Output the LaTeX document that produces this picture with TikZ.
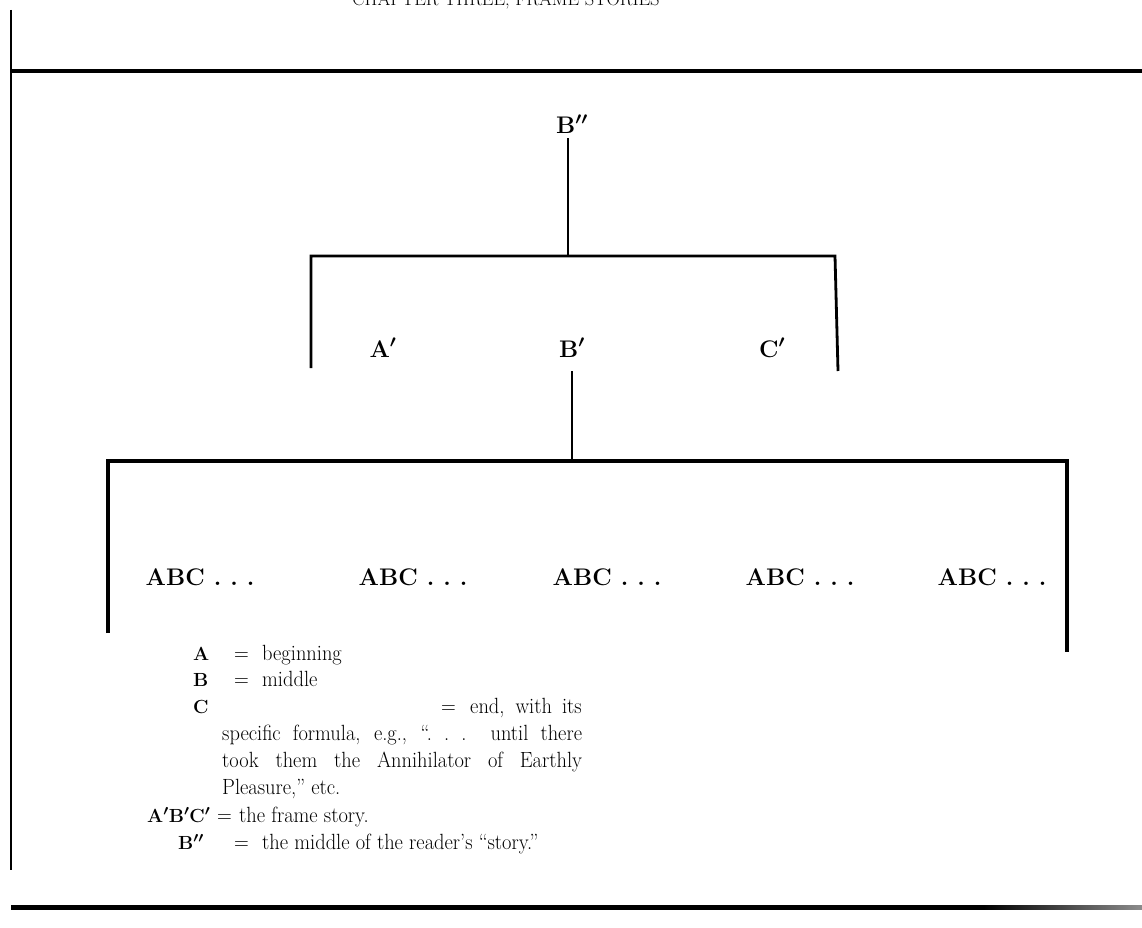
\documentclass[tikz,border=0pt]{standalone}
\usepackage{fontspec}
\newcommand{\lgx}[1]{\scalebox{0.93}[1]{#1}}
\pgfdeclarehorizontalshading{fadeline}{100bp}{color(0bp)=(black); color(25bp)=(black); color(68bp)=(black); color(75bp)=(black!45); color(100bp)=(black!45)}
\begin{document}
\begin{tikzpicture}[x=1pt,y=-1pt,
  lab/.style={font=\fontsize{24}{28}\selectfont\bfseries\boldmath, inner sep=0pt, anchor=base},
  abc/.style={font=\fontsize{24}{28}\selectfont\bfseries, inner sep=0pt, anchor=base},
  leg/.style={font=\fontsize{22}{26}\selectfont, inner sep=0pt, anchor=base west},
  legb/.style={font=\fontsize{19}{24}\selectfont\bfseries\boldmath, inner sep=0pt, anchor=base west},
  rule/.style={line width=2.8pt},
  heavy/.style={line width=4pt}]
\useasboundingbox (0,0) rectangle (1142,928);
\clip (0,0) rectangle (1142,928);
% running head, cut off at the top edge
\node[anchor=base, font=\fontsize{18.5}{20}\selectfont, inner sep=0pt] (title) at (506,5.5) {CHAPTER THREE, FRAME STORIES};
% frame lines
\draw[rule] (11,10) -- (11,870);
\draw[heavy] (11,71) -- (1142,71);
\shade[shading=fadeline] (11,905) rectangle (1142,909);
% top level
\node[lab] (Bpp) at (572,134) {B$''$};
\coordinate (t1) at (568,256);
\coordinate (L1a) at (311,256);
\coordinate (L1b) at (311,368);
\coordinate (R1a) at (835,256);
\coordinate (R1b) at (838,371);
\draw[rule] ([yshift=-4pt]Bpp.south -| t1) -- (t1);
\draw[rule] (L1b) -- (L1a) -- (R1a) -- (R1b);
% frame story
\node[lab] (Ap) at (383,357) {A$'$};
\node[lab] (Bp) at (572,357) {B$'$};
\node[lab] (Cp) at (772,357) {C$'$};
\coordinate (t2) at (572,461);
\coordinate (L2a) at (108,461);
\coordinate (L2b) at (108,633);
\coordinate (R2a) at (1067,461);
\coordinate (R2b) at (1067,652);
\draw[rule] ([yshift=-14pt]Bp.south -| t2) -- (t2);
\draw[heavy] (L2b) -- (L2a) -- (R2a) -- (R2b);
% inner stories
\foreach \x/\n in {200/1,413/2,607/3,800/4,992/5}
  \node[abc] (abc\n) at (\x,585) {ABC~.~.~.};
% legend
\node[legb] (lA) at (193,660) {A};
\node[leg] (eA) at (234,660) {\lgx{=}};
\node[leg] (tA) at (262,660) {\lgx{beginning}};
\node[legb] (lB) at (193,686) {B};
\node[leg] (eB) at (234,686) {\lgx{=}};
\node[leg] (tB) at (262,686) {\lgx{middle}};
\node[legb] (lC) at (193,713) {C};
\node[leg] (eC) at (441,713) {\lgx{=}};
\node[leg, anchor=base east] (tC) at (582,713) {\lgx{\makebox[120pt][s]{end, with its}}};
\node[leg] (p1) at (222,740) {\lgx{\makebox[387pt][s]{specific formula, e.g., “.~.~.\ \ until there}}};
\node[leg] (p2) at (222,767) {\lgx{\makebox[387pt][s]{took them the Annihilator of Earthly}}};
\node[leg] (p3) at (222,794) {\lgx{Pleasure,” etc.}};
\node[legb] (lF) at (147,822) {A$'$B$'$C$'$};
\node[leg] (eF) at (217,822) {\lgx{=}};
\node[leg] (tF) at (239,822) {\lgx{the frame story.}};
\node[legb] (lM) at (178,849) {B$''$};
\node[leg] (eM) at (234,849) {\lgx{=}};
\node[leg] (tM) at (262,849) {\lgx{the middle of the reader's “story.”}};
\end{tikzpicture}
\end{document}
